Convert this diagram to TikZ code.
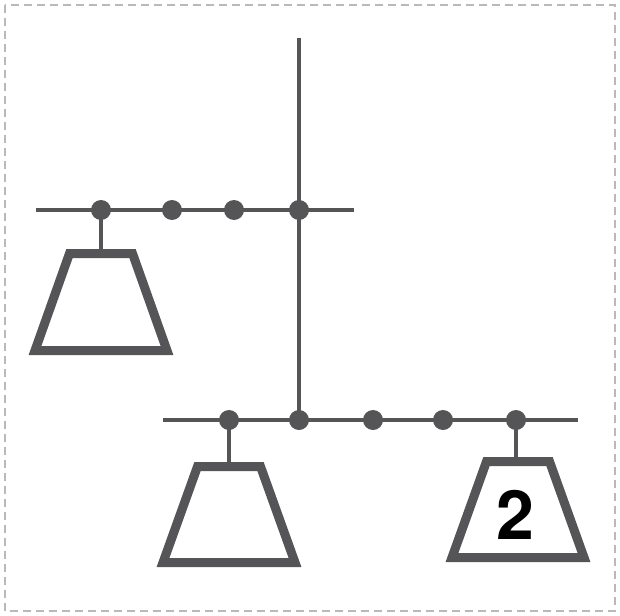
\documentclass[tikz,border=0pt]{standalone}
\usepackage{fontspec}
\newfontfamily\weightfont{TeX Gyre Heros}
\usetikzlibrary{positioning}
\definecolor{beamgray}{RGB}{85,85,87}
\definecolor{framegray}{RGB}{185,185,188}

\begin{document}
\begin{tikzpicture}[x=1pt, y=-1pt,
    beam/.style={draw=beamgray, line width=4.5pt},
    joint/.style={circle, fill=beamgray, minimum size=20pt, inner sep=0pt},
    pan/.style={draw=beamgray, line width=9pt, fill=white, line join=miter},
    weight/.style={inner sep=0pt, font=\weightfont\bfseries\fontsize{68}{68}\selectfont}]
  \useasboundingbox (0,0) rectangle (620,615);
  \draw[framegray, line width=2pt, dash pattern=on 8pt off 5pt] (5,5) rectangle (615,611);

  % vertical post
  \coordinate (top) at (299,38);

  % upper beam
  \coordinate (ul) at (36,210);
  \coordinate (ur) at (354,210);
  \draw[beam] (ul) -- (ur);
  \node[joint] (u1) at (101,210) {};
  \node[joint] (u2) at (172,210) {};
  \node[joint] (u3) at (234,210) {};
  \node[joint] (u4) at (299,210) {};

  % lower beam
  \coordinate (ll) at (163,420);
  \coordinate (lr) at (578,420);
  \draw[beam] (ll) -- (lr);
  \node[joint] (l1) at (229,420) {};
  \node[joint] (l2) at (299,420) {};
  \node[joint] (l3) at (373,420) {};
  \node[joint] (l4) at (443,420) {};
  \node[joint] (l5) at (516,420) {};

  \draw[beam] (top) -- (l2.center);

  % pans hanging from the joints
  \coordinate (p1) at (101,253.5);
  \coordinate (p2) at (229,466.5);
  \coordinate (p3) at (518,461.5);
  \draw[beam] (u1.center) -- (p1);
  \draw[beam] (l1.center) -- (p2);
  \draw[beam] (l5.center) -- (l5.center |- p3);
  \draw[pan] (p1) ++(-31.5,0) -- ++(63,0) -- ++(34.5,97) -- ++(-132,0) -- cycle;
  \draw[pan] (p2) ++(-31.5,0) -- ++(63,0) -- ++(34.5,96) -- ++(-132,0) -- cycle;
  \draw[pan] (p3) ++(-31.5,0) -- ++(63,0) -- ++(34.5,96) -- ++(-132,0) -- cycle;
  \node[weight, below=29pt of p3, xshift=-3pt] (w2) {2};
\end{tikzpicture}
\end{document}
